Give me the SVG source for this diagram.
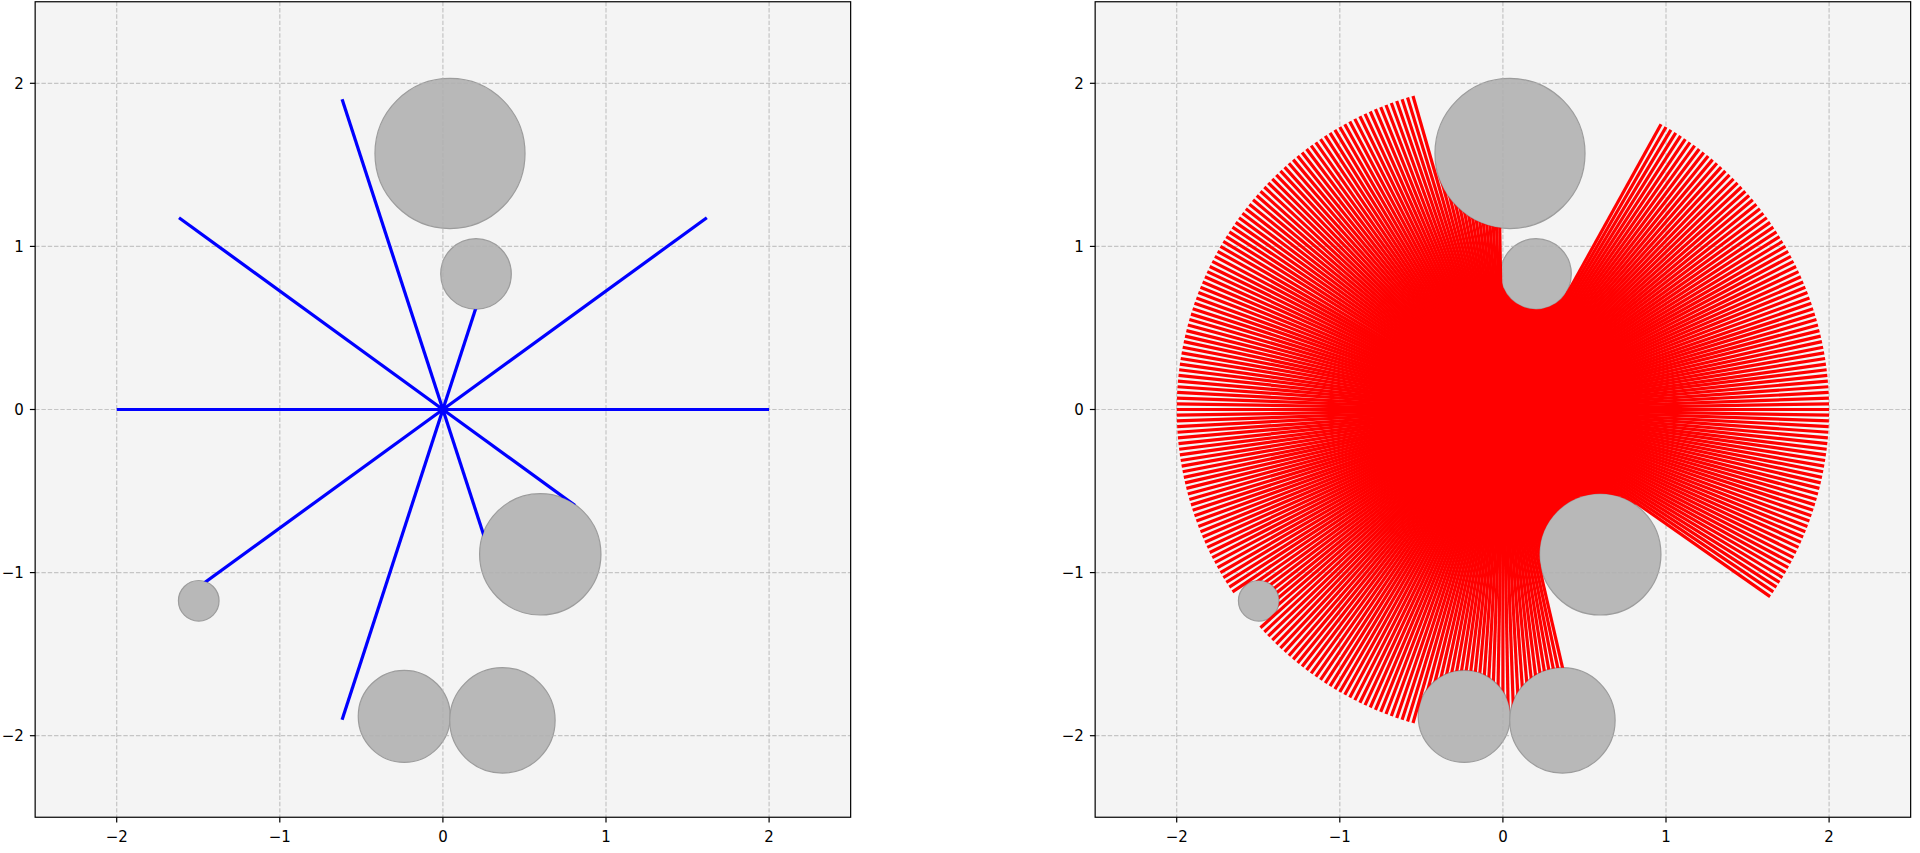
<svg xmlns="http://www.w3.org/2000/svg" xmlns:xlink="http://www.w3.org/1999/xlink" width="1920" height="853" viewBox="0 0 1920 853">
<style>
.bg{fill:#f4f4f4}
.grid line{stroke:#b0b0b0;stroke-opacity:0.7;stroke-width:1.2;stroke-dasharray:4.4,1.9}
.obs circle{fill:#b8b8b8;stroke:#9c9c9c;stroke-width:0.0074}
.r line{stroke:#ff0000;stroke-width:0.0196}
.b line{stroke:#0000ff;stroke-width:0.0198}
.spine{fill:none;stroke:#000;stroke-width:1.2}
.tick line{stroke:#000;stroke-width:1.2}
.lab text{font-family:"DejaVu Sans",sans-serif;font-size:15px;fill:#000}
.xl text{text-anchor:middle}
.yl text{text-anchor:end}
</style>
<defs>
<g id="obstacles" class="obs">
<circle cx="0.0435" cy="1.5696" r="0.46"/>
<circle cx="0.203" cy="0.831" r="0.2164"/>
<circle cx="0.597" cy="-0.888" r="0.372"/>
<circle cx="-0.237" cy="-1.881" r="0.282"/>
<circle cx="0.365" cy="-1.906" r="0.323"/>
<circle cx="-1.497" cy="-1.173" r="0.1245"/>
</g>
<mask id="k1" maskUnits="userSpaceOnUse" x="-3" y="-3" width="6" height="6"><rect x="-3" y="-3" width="6" height="6" fill="#fff"/><polygon points="-0.41426,1.44311 -1.07966,3.85157 1.29165,3.78573 0.49367,1.41789" fill="#000"/><circle cx="0.0435" cy="1.5696" r="0.46" fill="#000"/></mask>
<mask id="k2" maskUnits="userSpaceOnUse" x="-3" y="-3" width="6" height="6"><rect x="-3" y="-3" width="6" height="6" fill="#fff"/><polygon points="-0.02835,0.82726 -0.07952,3.99924 1.91464,3.51187 0.40661,0.72096" fill="#000"/><circle cx="0.203" cy="0.831" r="0.2164" fill="#000"/></mask>
<mask id="k3" maskUnits="userSpaceOnUse" x="-3" y="-3" width="6" height="6"><rect x="-3" y="-3" width="6" height="6" fill="#fff"/><polygon points="0.82249,-0.57599 3.25055,-2.33104 0.93139,-3.88995 0.22287,-0.97906" fill="#000"/><circle cx="0.597" cy="-0.888" r="0.372" fill="#000"/></mask>
<mask id="k4" maskUnits="userSpaceOnUse" x="-3" y="-3" width="6" height="6"><rect x="-3" y="-3" width="6" height="6" fill="#fff"/><polygon points="0.05996,-1.87388 0.11092,-3.99848 -1.09912,-3.84605 -0.52282,-1.80046" fill="#000"/><circle cx="-0.237" cy="-1.881" r="0.282" fill="#000"/></mask>
<mask id="k5" maskUnits="userSpaceOnUse" x="-3" y="-3" width="6" height="6"><rect x="-3" y="-3" width="6" height="6" fill="#fff"/><polygon points="0.68174,-1.788 1.40974,-3.74321 0.0728,-3.99937 0.027,-1.91344" fill="#000"/><circle cx="0.365" cy="-1.906" r="0.323" fill="#000"/></mask>
<mask id="k6" maskUnits="userSpaceOnUse" x="-3" y="-3" width="6" height="6"><rect x="-3" y="-3" width="6" height="6" fill="#fff"/><polygon points="-1.40394,-1.2769 -2.97024,-2.67902 -3.31174,-2.24313 -1.57566,-1.05771" fill="#000"/><circle cx="-1.497" cy="-1.173" r="0.1245" fill="#000"/></mask>
</defs>
<rect x="0" y="0" width="1920" height="853" fill="#fff"/>

<g id="left-panel">
<rect class="bg" x="35.15" y="1.75" width="815.5" height="815.5"/>
<g transform="translate(442.9,409.5) scale(163.1,-163.1)"><use href="#obstacles"/></g>
<g class="grid">
<line x1="116.7" y1="1.75" x2="116.7" y2="817.25"/><line x1="279.8" y1="1.75" x2="279.8" y2="817.25"/><line x1="442.9" y1="1.75" x2="442.9" y2="817.25"/><line x1="606" y1="1.75" x2="606" y2="817.25"/><line x1="769.1" y1="1.75" x2="769.1" y2="817.25"/>
<line x1="35.15" y1="83.3" x2="850.65" y2="83.3"/><line x1="35.15" y1="246.4" x2="850.65" y2="246.4"/><line x1="35.15" y1="409.5" x2="850.65" y2="409.5"/><line x1="35.15" y1="572.6" x2="850.65" y2="572.6"/><line x1="35.15" y1="735.7" x2="850.65" y2="735.7"/>
</g>
<g id="connectors-left" transform="translate(442.9,409.5) scale(163.1,-163.1)">
<g class="b"><line x2="2"/><line x2="2" transform="rotate(36)"/><line x2="2" transform="rotate(108)"/><line x2="2" transform="rotate(144)"/><line x2="2" transform="rotate(180)"/><line x2="2" transform="rotate(252)"/></g>
<g class="b" mask="url(#k2)"><line x2="2" transform="rotate(72)"/></g>
<g class="b" mask="url(#k6)"><line x2="2" transform="rotate(216)"/></g>
<g class="b" mask="url(#k3)"><line x2="2" transform="rotate(288)"/><line x2="2" transform="rotate(324)"/></g>
</g>
<rect class="spine" x="35.15" y="1.75" width="815.5" height="815.5"/>
<g class="tick">
<line x1="116.7" y1="817.25" x2="116.7" y2="822.5"/><line x1="279.8" y1="817.25" x2="279.8" y2="822.5"/><line x1="442.9" y1="817.25" x2="442.9" y2="822.5"/><line x1="606" y1="817.25" x2="606" y2="822.5"/><line x1="769.1" y1="817.25" x2="769.1" y2="822.5"/>
<line x1="29.9" y1="83.3" x2="35.15" y2="83.3"/><line x1="29.9" y1="246.4" x2="35.15" y2="246.4"/><line x1="29.9" y1="409.5" x2="35.15" y2="409.5"/><line x1="29.9" y1="572.6" x2="35.15" y2="572.6"/><line x1="29.9" y1="735.7" x2="35.15" y2="735.7"/>
</g>
<g class="lab xl"><text x="116.7" y="841.5">−2</text><text x="279.8" y="841.5">−1</text><text x="442.9" y="841.5">0</text><text x="606" y="841.5">1</text><text x="769.1" y="841.5">2</text></g>
<g class="lab yl"><text x="23.8" y="88.8">2</text><text x="23.8" y="251.9">1</text><text x="23.8" y="415">0</text><text x="23.8" y="578.1">−1</text><text x="23.8" y="741.2">−2</text></g>
</g>

<g id="right-panel">
<rect class="bg" x="1095.15" y="1.75" width="815.5" height="815.5"/>
<g transform="translate(1502.9,409.5) scale(163.1,-163.1)"><use href="#obstacles"/></g>
<g class="grid">
<line x1="1176.7" y1="1.75" x2="1176.7" y2="817.25"/><line x1="1339.8" y1="1.75" x2="1339.8" y2="817.25"/><line x1="1502.9" y1="1.75" x2="1502.9" y2="817.25"/><line x1="1666" y1="1.75" x2="1666" y2="817.25"/><line x1="1829.1" y1="1.75" x2="1829.1" y2="817.25"/>
<line x1="1095.15" y1="83.3" x2="1910.65" y2="83.3"/><line x1="1095.15" y1="246.4" x2="1910.65" y2="246.4"/><line x1="1095.15" y1="409.5" x2="1910.65" y2="409.5"/><line x1="1095.15" y1="572.6" x2="1910.65" y2="572.6"/><line x1="1095.15" y1="735.7" x2="1910.65" y2="735.7"/>
</g>
<g id="connectors-right" transform="translate(1502.9,409.5) scale(163.1,-163.1)">
<g class="r">
<line x2="2"/><line x2="2" transform="rotate(1)"/><line x2="2" transform="rotate(2)"/><line x2="2" transform="rotate(3)"/><line x2="2" transform="rotate(4)"/><line x2="2" transform="rotate(5)"/><line x2="2" transform="rotate(6)"/><line x2="2" transform="rotate(7)"/><line x2="2" transform="rotate(8)"/><line x2="2" transform="rotate(9)"/>
<line x2="2" transform="rotate(10)"/><line x2="2" transform="rotate(11)"/><line x2="2" transform="rotate(12)"/><line x2="2" transform="rotate(13)"/><line x2="2" transform="rotate(14)"/><line x2="2" transform="rotate(15)"/><line x2="2" transform="rotate(16)"/><line x2="2" transform="rotate(17)"/><line x2="2" transform="rotate(18)"/><line x2="2" transform="rotate(19)"/>
<line x2="2" transform="rotate(20)"/><line x2="2" transform="rotate(21)"/><line x2="2" transform="rotate(22)"/><line x2="2" transform="rotate(23)"/><line x2="2" transform="rotate(24)"/><line x2="2" transform="rotate(25)"/><line x2="2" transform="rotate(26)"/><line x2="2" transform="rotate(27)"/><line x2="2" transform="rotate(28)"/><line x2="2" transform="rotate(29)"/>
<line x2="2" transform="rotate(30)"/><line x2="2" transform="rotate(31)"/><line x2="2" transform="rotate(32)"/><line x2="2" transform="rotate(33)"/><line x2="2" transform="rotate(34)"/><line x2="2" transform="rotate(35)"/><line x2="2" transform="rotate(36)"/><line x2="2" transform="rotate(37)"/><line x2="2" transform="rotate(38)"/><line x2="2" transform="rotate(39)"/>
<line x2="2" transform="rotate(40)"/><line x2="2" transform="rotate(41)"/><line x2="2" transform="rotate(42)"/><line x2="2" transform="rotate(43)"/><line x2="2" transform="rotate(44)"/><line x2="2" transform="rotate(45)"/><line x2="2" transform="rotate(46)"/><line x2="2" transform="rotate(47)"/><line x2="2" transform="rotate(48)"/><line x2="2" transform="rotate(49)"/>
<line x2="2" transform="rotate(50)"/><line x2="2" transform="rotate(51)"/><line x2="2" transform="rotate(52)"/><line x2="2" transform="rotate(53)"/><line x2="2" transform="rotate(54)"/><line x2="2" transform="rotate(55)"/><line x2="2" transform="rotate(56)"/><line x2="2" transform="rotate(57)"/><line x2="2" transform="rotate(58)"/><line x2="2" transform="rotate(59)"/>
<line x2="2" transform="rotate(60)"/><line x2="2" transform="rotate(61)"/>
<line x2="2" transform="rotate(106)"/><line x2="2" transform="rotate(107)"/><line x2="2" transform="rotate(108)"/><line x2="2" transform="rotate(109)"/>
<line x2="2" transform="rotate(110)"/><line x2="2" transform="rotate(111)"/><line x2="2" transform="rotate(112)"/><line x2="2" transform="rotate(113)"/><line x2="2" transform="rotate(114)"/><line x2="2" transform="rotate(115)"/><line x2="2" transform="rotate(116)"/><line x2="2" transform="rotate(117)"/><line x2="2" transform="rotate(118)"/><line x2="2" transform="rotate(119)"/>
<line x2="2" transform="rotate(120)"/><line x2="2" transform="rotate(121)"/><line x2="2" transform="rotate(122)"/><line x2="2" transform="rotate(123)"/><line x2="2" transform="rotate(124)"/><line x2="2" transform="rotate(125)"/><line x2="2" transform="rotate(126)"/><line x2="2" transform="rotate(127)"/><line x2="2" transform="rotate(128)"/><line x2="2" transform="rotate(129)"/>
<line x2="2" transform="rotate(130)"/><line x2="2" transform="rotate(131)"/><line x2="2" transform="rotate(132)"/><line x2="2" transform="rotate(133)"/><line x2="2" transform="rotate(134)"/><line x2="2" transform="rotate(135)"/><line x2="2" transform="rotate(136)"/><line x2="2" transform="rotate(137)"/><line x2="2" transform="rotate(138)"/><line x2="2" transform="rotate(139)"/>
<line x2="2" transform="rotate(140)"/><line x2="2" transform="rotate(141)"/><line x2="2" transform="rotate(142)"/><line x2="2" transform="rotate(143)"/><line x2="2" transform="rotate(144)"/><line x2="2" transform="rotate(145)"/><line x2="2" transform="rotate(146)"/><line x2="2" transform="rotate(147)"/><line x2="2" transform="rotate(148)"/><line x2="2" transform="rotate(149)"/>
<line x2="2" transform="rotate(150)"/><line x2="2" transform="rotate(151)"/><line x2="2" transform="rotate(152)"/><line x2="2" transform="rotate(153)"/><line x2="2" transform="rotate(154)"/><line x2="2" transform="rotate(155)"/><line x2="2" transform="rotate(156)"/><line x2="2" transform="rotate(157)"/><line x2="2" transform="rotate(158)"/><line x2="2" transform="rotate(159)"/>
<line x2="2" transform="rotate(160)"/><line x2="2" transform="rotate(161)"/><line x2="2" transform="rotate(162)"/><line x2="2" transform="rotate(163)"/><line x2="2" transform="rotate(164)"/><line x2="2" transform="rotate(165)"/><line x2="2" transform="rotate(166)"/><line x2="2" transform="rotate(167)"/><line x2="2" transform="rotate(168)"/><line x2="2" transform="rotate(169)"/>
<line x2="2" transform="rotate(170)"/><line x2="2" transform="rotate(171)"/><line x2="2" transform="rotate(172)"/><line x2="2" transform="rotate(173)"/><line x2="2" transform="rotate(174)"/><line x2="2" transform="rotate(175)"/><line x2="2" transform="rotate(176)"/><line x2="2" transform="rotate(177)"/><line x2="2" transform="rotate(178)"/><line x2="2" transform="rotate(179)"/>
<line x2="2" transform="rotate(180)"/><line x2="2" transform="rotate(181)"/><line x2="2" transform="rotate(182)"/><line x2="2" transform="rotate(183)"/><line x2="2" transform="rotate(184)"/><line x2="2" transform="rotate(185)"/><line x2="2" transform="rotate(186)"/><line x2="2" transform="rotate(187)"/><line x2="2" transform="rotate(188)"/><line x2="2" transform="rotate(189)"/>
<line x2="2" transform="rotate(190)"/><line x2="2" transform="rotate(191)"/><line x2="2" transform="rotate(192)"/><line x2="2" transform="rotate(193)"/><line x2="2" transform="rotate(194)"/><line x2="2" transform="rotate(195)"/><line x2="2" transform="rotate(196)"/><line x2="2" transform="rotate(197)"/><line x2="2" transform="rotate(198)"/><line x2="2" transform="rotate(199)"/>
<line x2="2" transform="rotate(200)"/><line x2="2" transform="rotate(201)"/><line x2="2" transform="rotate(202)"/><line x2="2" transform="rotate(203)"/><line x2="2" transform="rotate(204)"/><line x2="2" transform="rotate(205)"/><line x2="2" transform="rotate(206)"/><line x2="2" transform="rotate(207)"/><line x2="2" transform="rotate(208)"/><line x2="2" transform="rotate(209)"/>
<line x2="2" transform="rotate(210)"/><line x2="2" transform="rotate(211)"/><line x2="2" transform="rotate(212)"/><line x2="2" transform="rotate(213)"/><line x2="2" transform="rotate(214)"/>
<line x2="2" transform="rotate(222)"/><line x2="2" transform="rotate(223)"/><line x2="2" transform="rotate(224)"/><line x2="2" transform="rotate(225)"/><line x2="2" transform="rotate(226)"/><line x2="2" transform="rotate(227)"/><line x2="2" transform="rotate(228)"/><line x2="2" transform="rotate(229)"/>
<line x2="2" transform="rotate(230)"/><line x2="2" transform="rotate(231)"/><line x2="2" transform="rotate(232)"/><line x2="2" transform="rotate(233)"/><line x2="2" transform="rotate(234)"/><line x2="2" transform="rotate(235)"/><line x2="2" transform="rotate(236)"/><line x2="2" transform="rotate(237)"/><line x2="2" transform="rotate(238)"/><line x2="2" transform="rotate(239)"/>
<line x2="2" transform="rotate(240)"/><line x2="2" transform="rotate(241)"/><line x2="2" transform="rotate(242)"/><line x2="2" transform="rotate(243)"/><line x2="2" transform="rotate(244)"/><line x2="2" transform="rotate(245)"/><line x2="2" transform="rotate(246)"/><line x2="2" transform="rotate(247)"/><line x2="2" transform="rotate(248)"/><line x2="2" transform="rotate(249)"/>
<line x2="2" transform="rotate(250)"/><line x2="2" transform="rotate(251)"/><line x2="2" transform="rotate(252)"/><line x2="2" transform="rotate(253)"/><line x2="2" transform="rotate(254)"/>
<line x2="2" transform="rotate(325)"/><line x2="2" transform="rotate(326)"/><line x2="2" transform="rotate(327)"/><line x2="2" transform="rotate(328)"/><line x2="2" transform="rotate(329)"/>
<line x2="2" transform="rotate(330)"/><line x2="2" transform="rotate(331)"/><line x2="2" transform="rotate(332)"/><line x2="2" transform="rotate(333)"/><line x2="2" transform="rotate(334)"/><line x2="2" transform="rotate(335)"/><line x2="2" transform="rotate(336)"/><line x2="2" transform="rotate(337)"/><line x2="2" transform="rotate(338)"/><line x2="2" transform="rotate(339)"/>
<line x2="2" transform="rotate(340)"/><line x2="2" transform="rotate(341)"/><line x2="2" transform="rotate(342)"/><line x2="2" transform="rotate(343)"/><line x2="2" transform="rotate(344)"/><line x2="2" transform="rotate(345)"/><line x2="2" transform="rotate(346)"/><line x2="2" transform="rotate(347)"/><line x2="2" transform="rotate(348)"/><line x2="2" transform="rotate(349)"/>
<line x2="2" transform="rotate(350)"/><line x2="2" transform="rotate(351)"/><line x2="2" transform="rotate(352)"/><line x2="2" transform="rotate(353)"/><line x2="2" transform="rotate(354)"/><line x2="2" transform="rotate(355)"/><line x2="2" transform="rotate(356)"/><line x2="2" transform="rotate(357)"/><line x2="2" transform="rotate(358)"/><line x2="2" transform="rotate(359)"/>
</g>
<g class="r" mask="url(#k2)">
<line x2="2" transform="rotate(62)"/><line x2="2" transform="rotate(63)"/><line x2="2" transform="rotate(64)"/><line x2="2" transform="rotate(65)"/><line x2="2" transform="rotate(66)"/><line x2="2" transform="rotate(67)"/><line x2="2" transform="rotate(68)"/><line x2="2" transform="rotate(69)"/>
<line x2="2" transform="rotate(70)"/><line x2="2" transform="rotate(71)"/><line x2="2" transform="rotate(72)"/><line x2="2" transform="rotate(73)"/><line x2="2" transform="rotate(74)"/><line x2="2" transform="rotate(75)"/><line x2="2" transform="rotate(76)"/><line x2="2" transform="rotate(77)"/><line x2="2" transform="rotate(78)"/><line x2="2" transform="rotate(79)"/>
<line x2="2" transform="rotate(80)"/><line x2="2" transform="rotate(81)"/><line x2="2" transform="rotate(82)"/><line x2="2" transform="rotate(83)"/><line x2="2" transform="rotate(84)"/><line x2="2" transform="rotate(85)"/><line x2="2" transform="rotate(86)"/><line x2="2" transform="rotate(87)"/><line x2="2" transform="rotate(88)"/><line x2="2" transform="rotate(89)"/>
<line x2="2" transform="rotate(90)"/>
</g>
<g class="r" mask="url(#k1)">
<line x2="2" transform="rotate(91)"/><line x2="2" transform="rotate(92)"/><line x2="2" transform="rotate(93)"/><line x2="2" transform="rotate(94)"/><line x2="2" transform="rotate(95)"/><line x2="2" transform="rotate(96)"/><line x2="2" transform="rotate(97)"/><line x2="2" transform="rotate(98)"/><line x2="2" transform="rotate(99)"/>
<line x2="2" transform="rotate(100)"/><line x2="2" transform="rotate(101)"/><line x2="2" transform="rotate(102)"/><line x2="2" transform="rotate(103)"/><line x2="2" transform="rotate(104)"/><line x2="2" transform="rotate(105)"/>
</g>
<g class="r" mask="url(#k6)">
<line x2="2" transform="rotate(215)"/><line x2="2" transform="rotate(216)"/><line x2="2" transform="rotate(217)"/><line x2="2" transform="rotate(218)"/><line x2="2" transform="rotate(219)"/><line x2="2" transform="rotate(220)"/><line x2="2" transform="rotate(221)"/>
</g>
<g class="r" mask="url(#k4)">
<line x2="2" transform="rotate(255)"/><line x2="2" transform="rotate(256)"/><line x2="2" transform="rotate(257)"/><line x2="2" transform="rotate(258)"/><line x2="2" transform="rotate(259)"/>
<line x2="2" transform="rotate(260)"/><line x2="2" transform="rotate(261)"/><line x2="2" transform="rotate(262)"/><line x2="2" transform="rotate(263)"/><line x2="2" transform="rotate(264)"/><line x2="2" transform="rotate(265)"/><line x2="2" transform="rotate(266)"/><line x2="2" transform="rotate(267)"/><line x2="2" transform="rotate(268)"/><line x2="2" transform="rotate(269)"/>
<line x2="2" transform="rotate(270)"/><line x2="2" transform="rotate(271)"/>
</g>
<g class="r" mask="url(#k5)">
<line x2="2" transform="rotate(272)"/><line x2="2" transform="rotate(273)"/><line x2="2" transform="rotate(274)"/><line x2="2" transform="rotate(275)"/><line x2="2" transform="rotate(276)"/><line x2="2" transform="rotate(277)"/><line x2="2" transform="rotate(278)"/><line x2="2" transform="rotate(279)"/>
<line x2="2" transform="rotate(280)"/><line x2="2" transform="rotate(281)"/><line x2="2" transform="rotate(282)"/><line x2="2" transform="rotate(283)"/>
</g>
<g class="r" mask="url(#k3)">
<line x2="2" transform="rotate(284)"/><line x2="2" transform="rotate(285)"/><line x2="2" transform="rotate(286)"/><line x2="2" transform="rotate(287)"/><line x2="2" transform="rotate(288)"/><line x2="2" transform="rotate(289)"/>
<line x2="2" transform="rotate(290)"/><line x2="2" transform="rotate(291)"/><line x2="2" transform="rotate(292)"/><line x2="2" transform="rotate(293)"/><line x2="2" transform="rotate(294)"/><line x2="2" transform="rotate(295)"/><line x2="2" transform="rotate(296)"/><line x2="2" transform="rotate(297)"/><line x2="2" transform="rotate(298)"/><line x2="2" transform="rotate(299)"/>
<line x2="2" transform="rotate(300)"/><line x2="2" transform="rotate(301)"/><line x2="2" transform="rotate(302)"/><line x2="2" transform="rotate(303)"/><line x2="2" transform="rotate(304)"/><line x2="2" transform="rotate(305)"/><line x2="2" transform="rotate(306)"/><line x2="2" transform="rotate(307)"/><line x2="2" transform="rotate(308)"/><line x2="2" transform="rotate(309)"/>
<line x2="2" transform="rotate(310)"/><line x2="2" transform="rotate(311)"/><line x2="2" transform="rotate(312)"/><line x2="2" transform="rotate(313)"/><line x2="2" transform="rotate(314)"/><line x2="2" transform="rotate(315)"/><line x2="2" transform="rotate(316)"/><line x2="2" transform="rotate(317)"/><line x2="2" transform="rotate(318)"/><line x2="2" transform="rotate(319)"/>
<line x2="2" transform="rotate(320)"/><line x2="2" transform="rotate(321)"/><line x2="2" transform="rotate(322)"/><line x2="2" transform="rotate(323)"/><line x2="2" transform="rotate(324)"/>
</g>
</g>
<rect class="spine" x="1095.15" y="1.75" width="815.5" height="815.5"/>
<g class="tick">
<line x1="1176.7" y1="817.25" x2="1176.7" y2="822.5"/><line x1="1339.8" y1="817.25" x2="1339.8" y2="822.5"/><line x1="1502.9" y1="817.25" x2="1502.9" y2="822.5"/><line x1="1666" y1="817.25" x2="1666" y2="822.5"/><line x1="1829.1" y1="817.25" x2="1829.1" y2="822.5"/>
<line x1="1089.9" y1="83.3" x2="1095.15" y2="83.3"/><line x1="1089.9" y1="246.4" x2="1095.15" y2="246.4"/><line x1="1089.9" y1="409.5" x2="1095.15" y2="409.5"/><line x1="1089.9" y1="572.6" x2="1095.15" y2="572.6"/><line x1="1089.9" y1="735.7" x2="1095.15" y2="735.7"/>
</g>
<g class="lab xl"><text x="1176.7" y="841.5">−2</text><text x="1339.8" y="841.5">−1</text><text x="1502.9" y="841.5">0</text><text x="1666" y="841.5">1</text><text x="1829.1" y="841.5">2</text></g>
<g class="lab yl"><text x="1083.8" y="88.8">2</text><text x="1083.8" y="251.9">1</text><text x="1083.8" y="415">0</text><text x="1083.8" y="578.1">−1</text><text x="1083.8" y="741.2">−2</text></g>
</g>
</svg>
